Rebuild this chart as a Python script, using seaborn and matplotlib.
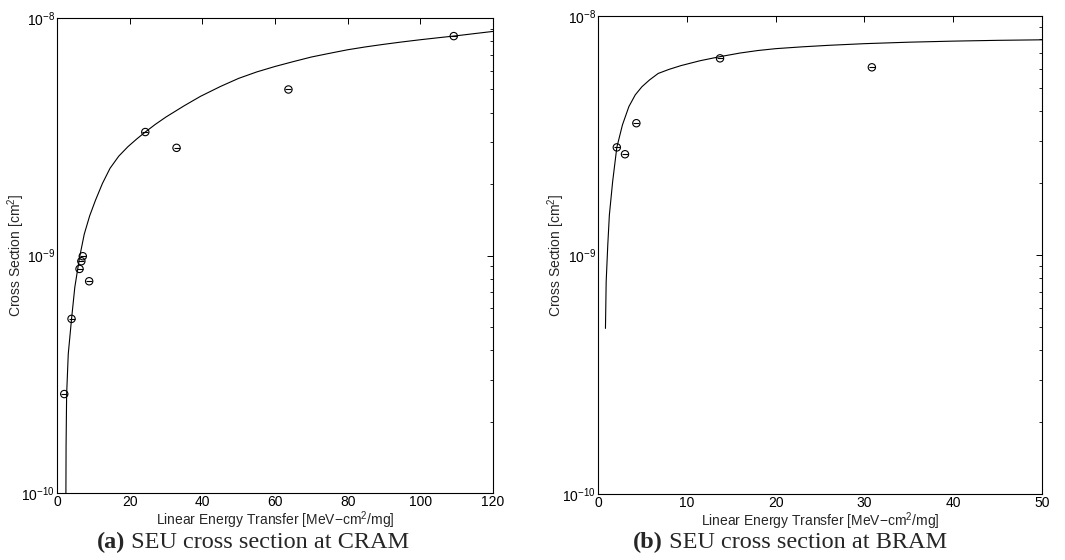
import numpy as np
import pandas as pd
import matplotlib
matplotlib.use("Agg")
import matplotlib.pyplot as plt
import seaborn as sns

# ---- data: CRAM ----
cram_let = [2.0, 4.0, 6.2, 6.7, 7.1, 8.85, 24.3, 32.9, 63.7, 109.2]
cram_xs = [2.61e-10, 5.41e-10, 8.78e-10, 9.46e-10, 9.93e-10, 7.79e-10,
           3.31e-9, 2.84e-9, 5.0e-9, 8.39e-9]
cram_fit_let = [2.45, 2.5, 2.65, 3.1, 4.0, 4.9, 6.2, 7.5, 9.0, 10.6, 12.5, 14.6,
                17.0, 19.5, 22.0, 24.3, 27.0, 30.0, 35.0, 39.5, 45.0, 50.0, 55.0,
                60.0, 65.0, 70.0, 75.0, 80.0, 85.0, 90.0, 95.0, 100.0, 105.0,
                110.0, 115.0, 120.0]
cram_fit_xs = [1.0e-10, 1.6e-10, 2.6e-10, 3.85e-10, 5.4e-10, 7.35e-10, 9.8e-10,
               1.23e-9, 1.47e-9, 1.71e-9, 2.01e-9, 2.33e-9, 2.62e-9, 2.87e-9,
               3.1e-9, 3.31e-9, 3.56e-9, 3.83e-9, 4.27e-9, 4.68e-9, 5.15e-9,
               5.57e-9, 5.93e-9, 6.25e-9, 6.55e-9, 6.85e-9, 7.1e-9, 7.35e-9,
               7.56e-9, 7.75e-9, 7.93e-9, 8.1e-9, 8.26e-9, 8.42e-9, 8.6e-9, 8.78e-9]

# ---- data: BRAM ----
bram_let = [2.12, 3.04, 4.32, 13.74, 30.84]
bram_xs = [2.82e-9, 2.64e-9, 3.56e-9, 6.65e-9, 6.1e-9]
bram_fit_let = [0.84, 0.92, 1.1, 1.28, 1.65, 2.12, 2.75, 3.48, 4.2, 4.95, 5.8,
                6.78, 8.0, 9.34, 11.5, 13.74, 16.0, 18.0, 20.0, 23.0, 26.0, 30.0,
                35.0, 40.0, 45.0, 50.0]
bram_fit_xs = [4.93e-10, 7.73e-10, 1.10e-9, 1.47e-9, 2.03e-9, 2.82e-9, 3.5e-9,
               4.18e-9, 4.68e-9, 5.06e-9, 5.4e-9, 5.75e-9, 5.98e-9, 6.2e-9,
               6.5e-9, 6.76e-9, 7.0e-9, 7.17e-9, 7.3e-9, 7.43e-9, 7.54e-9,
               7.66e-9, 7.77e-9, 7.85e-9, 7.91e-9, 7.95e-9]

sns.set_style("white")
plt.rcParams['font.family'] = ['Liberation Sans', 'DejaVu Sans']
plt.rcParams['mathtext.fontset'] = 'custom'
plt.rcParams['mathtext.rm'] = 'Liberation Sans'
plt.rcParams['mathtext.it'] = 'Liberation Sans:italic'

fig = plt.figure(figsize=(10.65, 5.6), dpi=100)
axA = fig.add_axes([57/1065, 1-493/560, 436/1065, 475/560])
axB = fig.add_axes([598/1065, 1-494/560, 444/1065, 478/560])

panels = [
    (axA, cram_let, cram_xs, cram_fit_let, cram_fit_xs, 120, 20, "a",
     "SEU cross section at CRAM", 253),
    (axB, bram_let, bram_xs, bram_fit_let, bram_fit_xs, 50, 10, "b",
     "SEU cross section at BRAM", 790),
]

captions = []
for ax, px, py, fx, fy, xmax, xstep, tag, cap, cx in panels:
    fit = pd.DataFrame({"LET": fx, "XS": fy})
    pts = pd.DataFrame({"LET": px, "XS": py})
    sns.lineplot(data=fit, x="LET", y="XS", ax=ax, color="black", linewidth=0.8,
                 sort=False, estimator=None)
    sns.scatterplot(data=pts, x="LET", y="XS", ax=ax, marker="o", s=28,
                    facecolor="none", edgecolor="black", linewidth=0.8, zorder=3)
    sns.scatterplot(data=pts, x="LET", y="XS", ax=ax, marker="_", s=24,
                    color="black", linewidth=0.8, zorder=3)
    ax.set_yscale("log")
    ax.set_ylim(1e-10, 1e-8)
    ax.set_xlim(0, xmax)
    ax.set_xticks(np.arange(0, xmax + 1, xstep))
    ax.tick_params(axis="both", which="both", direction="in", top=True, right=True,
                   labelsize=10, colors="black", pad=1.5)
    ax.tick_params(axis="both", which="major", length=4, width=0.7)
    ax.tick_params(axis="y", which="minor", length=2.5, width=0.6)
    for sp in ax.spines.values():
        sp.set_color("black")
        sp.set_linewidth(0.8)
    ax.set_xlabel("Linear Energy Transfer [MeV$-$cm$^2$/mg]", fontsize=10, labelpad=0)
    ax.set_ylabel("Cross Section [cm$^2$]", fontsize=10)
    ax.yaxis.set_label_coords(-0.069, 0.5)
    ax.xaxis.get_offset_text().set_visible(False)
    ax.yaxis.get_offset_text().set_visible(False)
    t1 = fig.text(cx/1065, 1-542/560, "(" + tag + ")", ha="right", va="center",
                  fontsize=17.5, fontweight="bold", family="Liberation Serif")
    t2 = fig.text(cx/1065, 1-542/560, " " + cap, ha="left", va="center",
                  fontsize=17.5, family="Liberation Serif")
    captions.append((t1, t2, cx))

# center each caption (bold tag + text) on its column centre
fig.canvas.draw()
r = fig.canvas.get_renderer()
figw = fig.get_window_extent(r).width
for t1, t2, cx in captions:
    w1 = t1.get_window_extent(r).width
    w2 = t2.get_window_extent(r).width
    shift = (w1 - w2) / 2 / figw
    t1.set_x(cx/1065 + shift)
    t2.set_x(cx/1065 + shift)

fig.savefig("out.png", dpi=100)
